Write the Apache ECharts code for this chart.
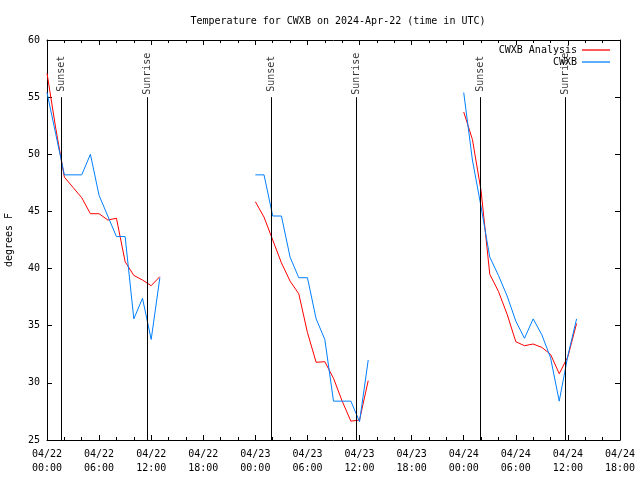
<!DOCTYPE html>
<html>
<head>
<meta charset="utf-8">
<script src="https://cdn.jsdelivr.net/npm/echarts@6/dist/echarts.min.js"></script>
<style>html,body{margin:0;padding:0;background:#fff}#c{width:640px;height:480px}</style>
</head>
<body>
<div id="c"></div>
<script>
// Hours since 2024-04-22 00:00 UTC at which each day's data block starts
const dayStarts = [0, 24, 48];
// Hour offsets within each block
const blockHours = [0,1,2,3,4,5,6,7,8,9,10,11,12,13];
// CWXB observations (deg F)
const obsDay1 = [55.4, 51.8, 48.2, 48.2, 48.2, 50.0, 46.4, 44.6, 42.8, 42.8, 35.6, 37.4, 33.8, 39.2];
const obsDay2 = [48.2, 48.2, 44.6, 44.6, 41.0, 39.2, 39.2, 35.6, 33.8, 28.4, 28.4, 28.4, 26.6, 32.0];
const obsDay3 = [55.4, 49.5, 45.4, 41.0, 39.4, 37.6, 35.4, 33.9, 35.6, 34.2, 32.2, 28.4, 32.4, 35.6];
// CWXB analysis (deg F)
const anaDay1 = [57.1, 52.3, 48.0, 47.1, 46.2, 44.8, 44.8, 44.25, 44.4, 40.6, 39.4, 39.0, 38.5, 39.3];
const anaDay2 = [45.85, 44.5, 42.5, 40.5, 38.9, 37.8, 34.4, 31.8, 31.85, 30.4, 28.4, 26.65, 26.75, 30.2];
const anaDay3 = [53.7, 51.3, 46.8, 39.5, 38.0, 36.0, 33.6, 33.25, 33.4, 33.1, 32.5, 30.8, 32.3, 35.2];
// Sunset / sunrise times (hours since start)
const sunsetHours = [1.65, 25.8, 49.9];
const sunriseHours = [11.55, 35.65, 59.7];
// X tick labels, every 6 hours
const xTickLabels = ['04/22\n00:00','04/22\n06:00','04/22\n12:00','04/22\n18:00',
  '04/23\n00:00','04/23\n06:00','04/23\n12:00','04/23\n18:00',
  '04/24\n00:00','04/24\n06:00','04/24\n12:00','04/24\n18:00'];

function build(days) {
  const out = [];
  days.forEach((vals, d) => {
    if (d > 0) out.push([dayStarts[d] - 5, null]);
    vals.forEach((v, i) => out.push([dayStarts[d] + blockHours[i], v]));
  });
  return out;
}
const obsData = build([obsDay1, obsDay2, obsDay3]);
const anaData = build([anaDay1, anaDay2, anaDay3]);

const FONT = '"DejaVu Sans Mono", "Liberation Mono", monospace';
const sunLines = [];
const sunLabels = [];
sunsetHours.forEach(h => { sunLines.push([{coord:[h,55]},{coord:[h,25]}]); sunLabels.push({value:[h,57.05], name:'Sunset'}); });
sunriseHours.forEach(h => { sunLines.push([{coord:[h,55]},{coord:[h,25]}]); sunLabels.push({value:[h,57.05], name:'Sunrise'}); });

const xBase = {
  type: 'value', min: 0, max: 66, interval: 6,
  axisLine: {show: true, onZero: false, lineStyle: {color: '#000', width: 1}},
  axisTick: {show: true, inside: true, length: 5, lineStyle: {color: '#000'}},
  minorTick: {show: true, splitNumber: 3, length: 3, lineStyle: {color: '#000'}},
  splitLine: {show: false}
};
const yBase = {
  type: 'value', min: 25, max: 60, interval: 5,
  axisLine: {show: true, onZero: false, lineStyle: {color: '#000', width: 1}},
  axisTick: {show: true, inside: true, length: 5, lineStyle: {color: '#000'}},
  splitLine: {show: false}
};

const chart = echarts.init(document.getElementById('c'), null, {renderer: 'canvas'});
chart.setOption({
  animation: false,
  backgroundColor: '#fff',
  title: {
    text: 'Temperature for CWXB on 2024-Apr-22 (time in UTC)',
    left: 333, top: 11, textAlign: 'center',
    textStyle: {fontFamily: FONT, fontSize: 10, fontWeight: 'normal', color: '#000'}
  },
  grid: {left: 47, right: 20, top: 40, bottom: 40, containLabel: false, outerBoundsMode: 'none'},
  legend: [
    {data: ['CWXB Analysis'], right: 30, top: 45, padding: 0, align: 'right', icon: 'rect',
     itemWidth: 28, itemHeight: 1.3, textStyle: {fontFamily: FONT, fontSize: 10, color: '#000'}},
    {data: ['CWXB'], right: 30, top: 57, padding: 0, align: 'right', icon: 'rect',
     itemWidth: 28, itemHeight: 1.3, textStyle: {fontFamily: FONT, fontSize: 10, color: '#000'}}
  ],
  xAxis: [
    Object.assign({}, xBase, {position: 'bottom',
      axisLabel: {show: true, margin: 7, lineHeight: 14, fontFamily: FONT, fontSize: 10, color: '#000',
        formatter: v => xTickLabels[Math.round(v / 6)]}}),
    Object.assign({}, xBase, {position: 'top', axisLabel: {show: false}})
  ],
  yAxis: [
    Object.assign({}, yBase, {position: 'left', name: 'degrees F', nameLocation: 'middle', nameGap: 33,
      nameRotate: 90, nameTextStyle: {fontFamily: FONT, fontSize: 10, color: '#000'},
      axisLabel: {show: true, margin: 7, fontFamily: FONT, fontSize: 10, color: '#000'}}),
    Object.assign({}, yBase, {position: 'right', axisLabel: {show: false}})
  ],
  series: [
    {name: 'CWXB Analysis', type: 'line', data: anaData, showSymbol: false, connectNulls: false,
     color: '#ff0000', lineStyle: {color: '#ff0000', width: 1}, z: 3},
    {name: 'CWXB', type: 'line', data: obsData, showSymbol: false, connectNulls: false,
     color: '#0080ff', lineStyle: {color: '#0080ff', width: 1}, z: 4,
     markLine: {silent: true, symbol: ['none','none'], label: {show: false},
       lineStyle: {color: '#000', width: 1, type: 'solid'}, data: sunLines}},
    {name: 'sun', type: 'scatter', data: sunLabels, symbolSize: 0, silent: true, z: 5,
     label: {show: true, position: 'inside', rotate: 90, formatter: p => p.name,
       fontFamily: FONT, fontSize: 10, color: '#000'}}
  ]
});
</script>
</body>
</html>
